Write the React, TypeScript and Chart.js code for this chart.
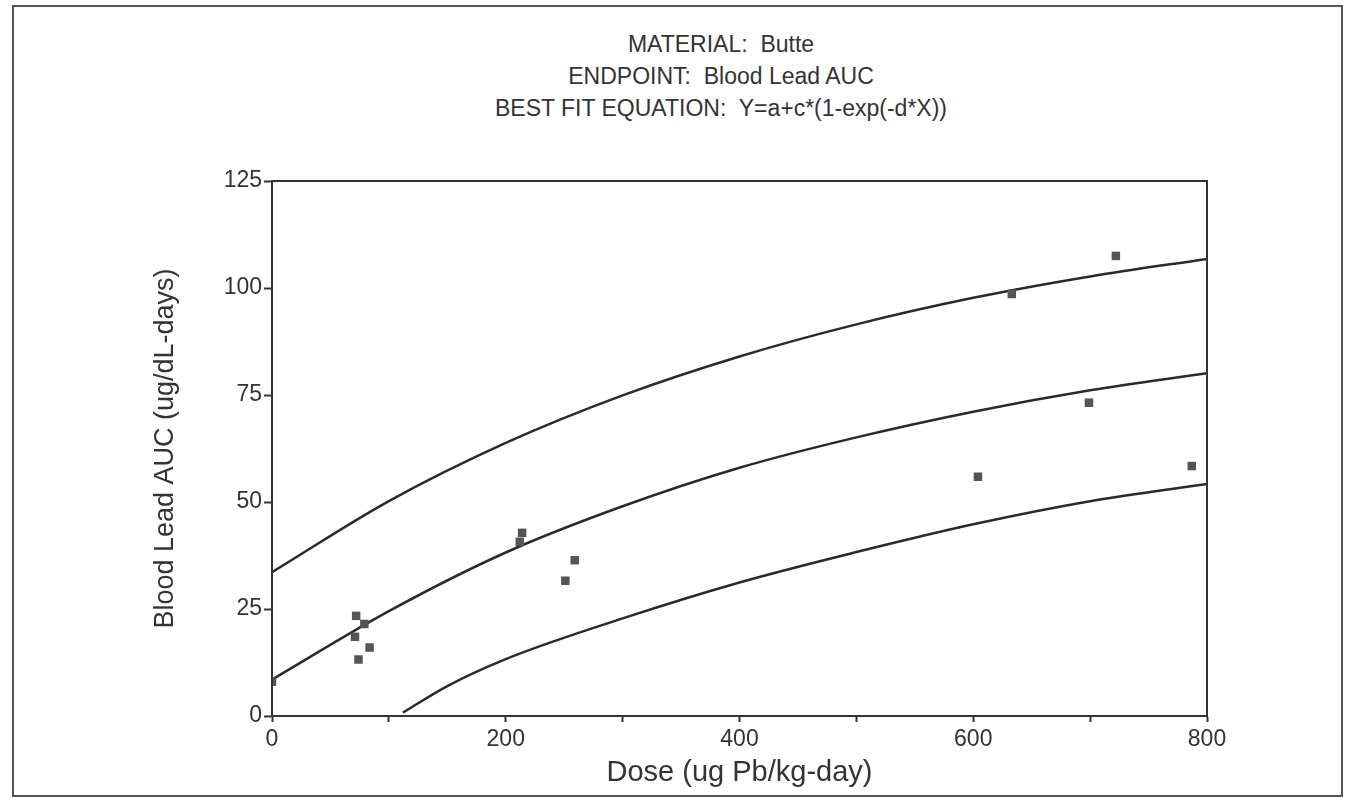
import React, { useEffect, useRef } from 'react';
import { Chart, registerables } from 'chart.js';

Chart.register(...registerables);

const titleLines = [
  'MATERIAL:  Butte',
  'ENDPOINT:  Blood Lead AUC',
  'BEST FIT EQUATION:  Y=a+c*(1-exp(-d*X))',
];
const xAxisTitle = 'Dose (ug Pb/kg-day)';
const yAxisTitle = 'Blood Lead AUC (ug/dL-days)';

// observed points
const obsDose = [0, 72, 79, 71, 83.5, 74, 212, 214, 251, 259, 604, 633, 699, 722, 787];
const obsAuc = [8, 23.4, 21.5, 18.5, 16, 13.2, 40.7, 42.8, 31.6, 36.4, 55.9, 98.6, 73.2, 107.5, 58.4];

// best-fit curve and bounds
const fitDose = [0, 100, 200, 300, 400, 500, 600, 700, 800];
const fitMid = [8.5, 24.5, 38.2, 49, 58, 65.1, 71.1, 76.1, 80.1];
const fitUpper = [33.6, 50.2, 63.8, 74.9, 84, 91.5, 97.7, 102.7, 106.8];
const lowerDose = [112, 150, 200, 300, 400, 500, 600, 700, 800];
const fitLower = [0.8, 7, 13.3, 22.8, 31.2, 38.3, 44.8, 50.2, 54.2];

const FONT = '"Liberation Sans", Arial, sans-serif';
const INK = '#333333';

const toXY = (xs: number[], ys: number[]) => xs.map((x, i) => ({ x, y: ys[i] }));

const plotBox = {
  id: 'plotBox',
  afterDatasetsDraw(chart: any) {
    const { ctx, chartArea: a } = chart;
    ctx.save();
    ctx.strokeStyle = INK;
    ctx.lineWidth = 2;
    ctx.strokeRect(a.left, a.top, a.right - a.left, a.bottom - a.top);
    ctx.restore();
  },
};

export default function App() {
  const ref = useRef<HTMLCanvasElement | null>(null);

  useEffect(() => {
    if (!ref.current) return;
    const lineDs = (data: any[]) => ({
      type: 'line' as const,
      data,
      showLine: true,
      borderColor: '#2a2a2a',
      borderWidth: 2.5,
      pointRadius: 0,
      fill: false,
      cubicInterpolationMode: 'monotone' as const,
    });
    const chart = new Chart(ref.current, {
      type: 'scatter',
      data: {
        datasets: [
          {
            data: toXY(obsDose, obsAuc),
            pointStyle: 'rect',
            pointRadius: 6,
            backgroundColor: '#555555',
            borderColor: '#555555',
            borderWidth: 0,
          },
          lineDs(toXY(fitDose, fitMid)),
          lineDs(toXY(fitDose, fitUpper)),
          lineDs(toXY(lowerDose, fitLower)),
        ] as any,
      },
      options: {
        animation: false,
        responsive: true,
        maintainAspectRatio: false,
        layout: { padding: { left: 130, right: 148, top: 181, bottom: 0 } },
        plugins: { legend: { display: false }, tooltip: { enabled: false }, title: { display: false } },
        scales: {
          x: {
            type: 'linear',
            min: 0,
            max: 800,
            afterFit: (s: any) => { s.height = 89; },
            border: { color: INK, width: 2 },
            grid: { drawOnChartArea: false, drawTicks: true, tickLength: 6, tickColor: INK, tickWidth: 2 },
            ticks: {
              stepSize: 100,
              autoSkip: false,
              maxRotation: 0,
              padding: 4,
              color: INK,
              font: { family: FONT, size: 23 },
              callback: (v: any) => (Number(v) % 200 === 0 ? String(v) : ''),
            },
            title: {
              display: true,
              text: xAxisTitle,
              color: INK,
              font: { family: FONT, size: 29 },
              padding: { top: 0, bottom: 15 },
            },
          },
          y: {
            type: 'linear',
            min: 0,
            max: 125,
            afterFit: (s: any) => { s.width = 142; },
            border: { color: INK, width: 2 },
            grid: { drawOnChartArea: false, drawTicks: true, tickLength: 8, tickColor: INK, tickWidth: 2 },
            ticks: {
              stepSize: 25,
              padding: 2,
              color: INK,
              font: { family: FONT, size: 23 },
            },
            title: {
              display: true,
              text: yAxisTitle,
              color: INK,
              font: { family: FONT, size: 27 },
              padding: { top: 19, bottom: 0 },
            },
          },
        },
      },
      plugins: [plotBox],
    });
    return () => chart.destroy();
  }, []);

  return (
    <div style={{ position: 'absolute', left: 0, top: 0, width: 1355, height: 805, background: '#fff' }}>
      <div
        style={{
          position: 'absolute',
          left: 12,
          top: 5,
          width: 1331,
          height: 792,
          border: '2px solid #555',
          boxSizing: 'border-box',
        }}
      />
      <div
        style={{
          position: 'absolute',
          left: 371,
          top: 28,
          width: 700,
          textAlign: 'center',
          fontFamily: FONT,
          fontSize: 23,
          lineHeight: '32px',
          color: INK,
          whiteSpace: 'pre',
        }}
      >
        {titleLines.map((t) => (
          <div key={t}>{t}</div>
        ))}
      </div>
      <div style={{ position: 'absolute', left: 0, top: 0, width: 1355, height: 805 }}>
        <canvas ref={ref} />
      </div>
    </div>
  );
}
